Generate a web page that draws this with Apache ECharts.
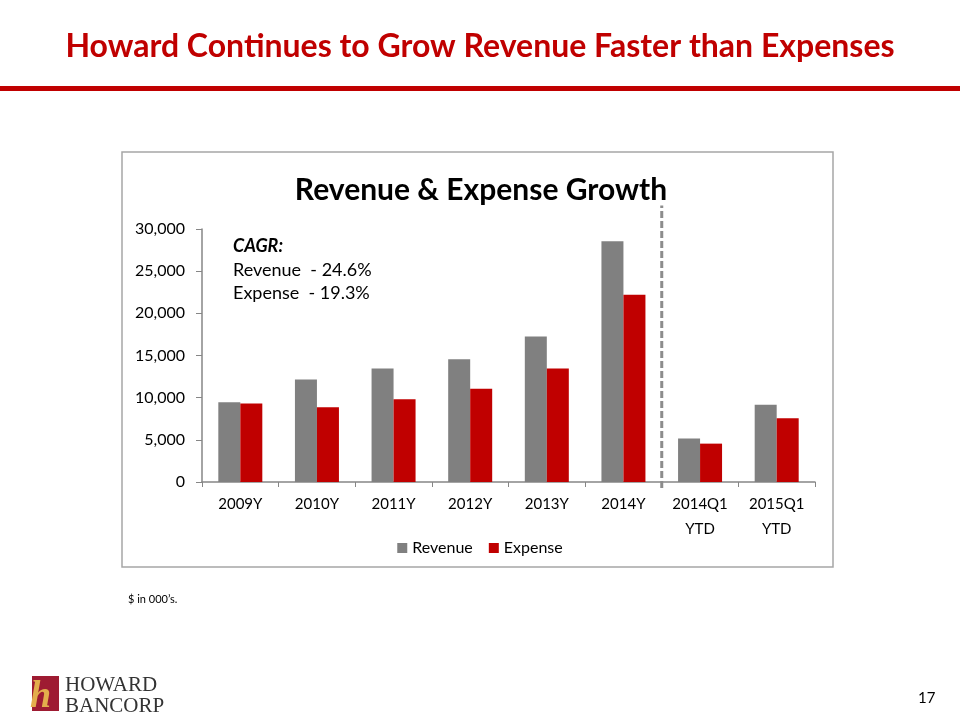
<!DOCTYPE html>
<html><head><meta charset="utf-8">
<script src="https://cdn.jsdelivr.net/npm/echarts@6/dist/echarts.min.js"></script>
<style>html,body{margin:0;padding:0;background:#fff}#c{width:960px;height:720px}</style>
</head><body><div id="c"></div>
<script>
const categories = ['2009Y','2010Y','2011Y','2012Y','2013Y','2014Y','2014Q1\nYTD','2015Q1\nYTD'];
const revenue = [9450, 12150, 13450, 14550, 17250, 28550, 5150, 9150];
const expense = [9300, 8850, 9800, 11050, 13450, 22200, 4550, 7550];
const yTicks = [0, 5000, 10000, 15000, 20000, 25000, 30000];
const dividerAt = 6; // boundary between annual and YTD categories

const chart = echarts.init(document.getElementById('c'), null, {renderer:'canvas'});
const F = 'Lato, "Open Sans", sans-serif';
chart.setOption({
  backgroundColor:'#fff',
  animation:false,
  textStyle:{fontFamily:F},
  title:[
    {text:'Howard Continues to Grow Revenue Faster than Expenses', left:'center', top:26,
     textStyle:{color:'#c00000', fontSize:32, fontWeight:'bold', fontFamily:F}},
    {text:'Revenue & Expense Growth', left:476, textAlign:'center', top:170,
     textStyle:{color:'#000', fontSize:30, fontWeight:'bold', fontFamily:F}}
  ],
  legend:{data:['Revenue','Expense'], left:'center', top:535, itemWidth:10, itemHeight:10, itemGap:16,
    textStyle:{fontSize:16, color:'#000', fontFamily:F}, icon:'rect'},
  grid:{left:202, right:145, top:229, bottom:238},
  xAxis:[
    {type:'category', data:categories,
     axisLine:{lineStyle:{color:'#868686', width:1.5}},
     axisTick:{show:true, length:5, lineStyle:{color:'#868686'}},
     axisLabel:{fontSize:15, color:'#000', margin:10, lineHeight:25, fontFamily:F}},
    {type:'value', min:0, max:8, show:false}
  ],
  yAxis:{type:'value', min:yTicks[0], max:yTicks[yTicks.length-1], interval:5000,
    axisLine:{show:true, lineStyle:{color:'#868686', width:1.5}},
    axisTick:{show:true, length:6, lineStyle:{color:'#868686'}},
    splitLine:{show:false},
    axisLabel:{fontSize:16, color:'#000', margin:17, fontFamily:F,
      formatter:v=>v.toLocaleString('en-US')}},
  series:[
    {name:'Revenue', type:'bar', data:revenue, barWidth:22, barGap:'0%', itemStyle:{color:'#808080'}},
    {name:'Expense', type:'bar', data:expense, barWidth:22, barGap:'0%', itemStyle:{color:'#c00000'}},
    {name:'divider', type:'line', xAxisIndex:1, yAxisIndex:0, clip:false, symbol:'none', silent:true,
     data:[[dividerAt,-700],[dividerAt,32800]],
     lineStyle:{color:'#8c8c8c', width:3, type:[7,3]}}
  ],
  graphic:[
    {type:'rect', shape:{x:0, y:86, width:960, height:5}, style:{fill:'#c00000'}},
    {type:'rect', shape:{x:122, y:152, width:711, height:415}, style:{fill:null, stroke:'#a6a6a6', lineWidth:1.5}, z:-1},
    {type:'text', left:233, top:237, style:{text:'CAGR:', font:'italic bold 18px '+F, fill:'#000'}},
    {type:'text', left:233, top:261, style:{text:'Revenue  - 24.6%', font:'18px '+F, fill:'#000'}},
    {type:'text', left:233, top:284, style:{text:'Expense  - 19.3%', font:'18px '+F, fill:'#000'}},
    {type:'text', left:128, top:594, style:{text:'$ in 000\u2019s.', font:'11px '+F, fill:'#000'}},
    {type:'text', left:918, top:691, style:{text:'17', font:'15px '+F, fill:'#000'}},
    {type:'rect', shape:{x:32, y:676, width:27, height:35}, style:{fill:'#9e1b32'}},
    {type:'text', left:30, top:678, style:{text:'h', font:'italic bold 38px "Liberation Serif", serif', fill:'#e3ad4c'}},
    {type:'text', left:65, top:675, style:{text:'HOWARD', font:'21px "Liberation Serif", serif', fill:'#333'}},
    {type:'text', left:65, top:696, style:{text:'BANCORP', font:'21px "Liberation Serif", serif', fill:'#333'}}
  ]
});
</script></body></html>
